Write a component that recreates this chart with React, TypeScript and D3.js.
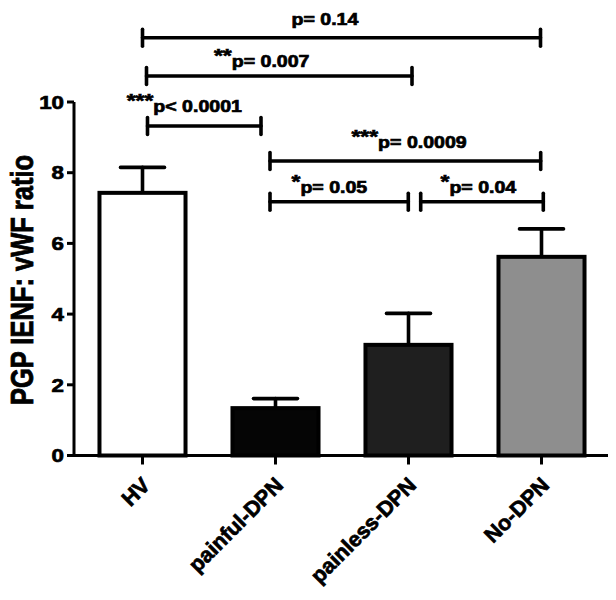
import React from "react";
import * as d3 from "d3";

// ---- data ----
const categories = ["HV", "painful-DPN", "painless-DPN", "No-DPN"];
const means = [7.43, 1.34, 3.13, 5.62];
const sems = [0.72, 0.27, 0.89, 0.79];
const yTicks = [0, 2, 4, 6, 8, 10];

const compFrom = ["HV", "HV", "HV", "painful-DPN", "painful-DPN", "painless-DPN"];
const compTo = ["No-DPN", "painless-DPN", "painful-DPN", "No-DPN", "painless-DPN", "No-DPN"];
const compStars = ["", "**", "***", "***", "*", "*"];
const compText = ["p= 0.14", "p= 0.007", "p< 0.0001", "p= 0.0009", "p= 0.05", "p= 0.04"];

const yLabel = "PGP IENF: vWF ratio";

// ---- styles / layout ----
const W = 616;
const H = 600;
const FONT = "'Liberation Sans', Arial, Helvetica, sans-serif";
const barFills = ["#ffffff", "#050505", "#1f1f1f", "#8e8e8e"];
const SX = 1.2; // horizontal stretch of text
const TS = 0.7; // text stroke to thicken glyphs
// bracket layout: line y, end offsets from centers, text offset from start center, baseline offset
const bracketLayout = [
  { y: 37.7, d1: 0, d2: -1, tx: 149, ty: -12.7 },
  { y: 76, d1: 4, d2: 3.5, tx: 71.5, ty: -9.3 },
  { y: 126, d1: 5, d2: -14.5, tx: -15.8, ty: -14.3 },
  { y: 161, d1: -5.5, d2: -0.8, tx: 76, ty: -13 },
  { y: 201.7, d1: -5.5, d2: -0.2, tx: 16, ty: -8.4 },
  { y: 201.7, d1: 12.2, d2: 1.8, tx: 32, ty: -8.4 },
];

export default function App() {
  const x = d3
    .scaleBand<string>()
    .domain(categories)
    .range([76, 608])
    .paddingInner(0.323)
    .paddingOuter(0.1615);
  const y = d3.scaleLinear().domain([0, 10]).range([455.5, 102]);
  const bw = x.bandwidth();
  const cx = (c: string) => (x(c) as number) + bw / 2;

  return (
    <svg
      width={W}
      height={H}
      style={{ position: "absolute", left: 0, top: 0, background: "#fff" }}
      fontFamily={FONT}
      fontWeight="bold"
    >
      <rect x={0} y={0} width={W} height={H} fill="#fff" />

      {/* error bars */}
      {categories.map((c, i) => (
        <g key={"e" + c} stroke="#000" strokeWidth={3.6} strokeLinecap="round">
          <line x1={cx(c)} x2={cx(c)} y1={y(means[i])} y2={y(means[i] + sems[i])} />
          <line x1={cx(c) - 22} x2={cx(c) + 22} y1={y(means[i] + sems[i])} y2={y(means[i] + sems[i])} />
        </g>
      ))}

      {/* bars */}
      {categories.map((c, i) => (
        <rect
          key={"b" + c}
          x={(x(c) as number) + 2}
          y={y(means[i])}
          width={bw - 4}
          height={y(0) - y(means[i])}
          fill={barFills[i]}
          stroke="#000"
          strokeWidth={4}
        />
      ))}

      {/* y axis */}
      <line x1={74} x2={74} y1={y(10)} y2={y(0)} stroke="#000" strokeWidth={3} />
      {yTicks.map((t) => (
        <g key={"yt" + t}>
          <line x1={67} x2={74} y1={y(t)} y2={y(t)} stroke="#000" strokeWidth={3} />
          <text
            transform={`translate(64,${y(t) + 6.7}) scale(${SX},1)`}
            textAnchor="end"
            fontSize={18.6}
            fill="#000"
            stroke="#000"
            strokeWidth={TS}
          >
            {t}
          </text>
        </g>
      ))}

      {/* x axis */}
      <line x1={67} x2={608} y1={y(0)} y2={y(0)} stroke="#000" strokeWidth={3} />
      {categories.map((c) => (
        <g key={"xt" + c}>
          <line x1={cx(c)} x2={cx(c)} y1={y(0)} y2={y(0) + 9} stroke="#000" strokeWidth={3} />
          <text
            transform={`translate(${cx(c) + 9},${y(0) + 31}) rotate(-45)`}
            textAnchor="end"
            fontSize={21.5}
            fill="#000"
            stroke="#000"
            strokeWidth={TS}
          >
            {c}
          </text>
        </g>
      ))}

      {/* y label */}
      <text
        transform={`translate(32.7,280) scale(${SX},1) rotate(-90)`}
        textAnchor="middle"
        fontSize={25.5}
        fill="#000"
        stroke="#000"
        strokeWidth={TS}
      >
        {yLabel}
      </text>

      {/* significance brackets */}
      {compFrom.map((f, i) => {
        const L = bracketLayout[i];
        const x1 = cx(f) + L.d1;
        const x2 = cx(compTo[i]) + L.d2;
        return (
          <g key={"br" + i}>
            <g stroke="#000" strokeWidth={3.6} strokeLinecap="round">
              <line x1={x1} x2={x2} y1={L.y} y2={L.y} />
              <line x1={x1} x2={x1} y1={L.y - 8.5} y2={L.y + 8.5} />
              <line x1={x2} x2={x2} y1={L.y - 8.5} y2={L.y + 8.5} />
            </g>
            <text
              transform={`translate(${cx(f) + L.tx},${L.y + L.ty}) scale(${SX},1)`}
              fontSize={16.3}
              fill="#000"
              stroke="#000"
              strokeWidth={TS}
            >
              {compStars[i] ? (
                <tspan fontSize={19} dy={-5}>
                  {compStars[i]}
                </tspan>
              ) : null}
              <tspan dy={compStars[i] ? 5 : 0}>{compText[i]}</tspan>
            </text>
          </g>
        );
      })}
    </svg>
  );
}
